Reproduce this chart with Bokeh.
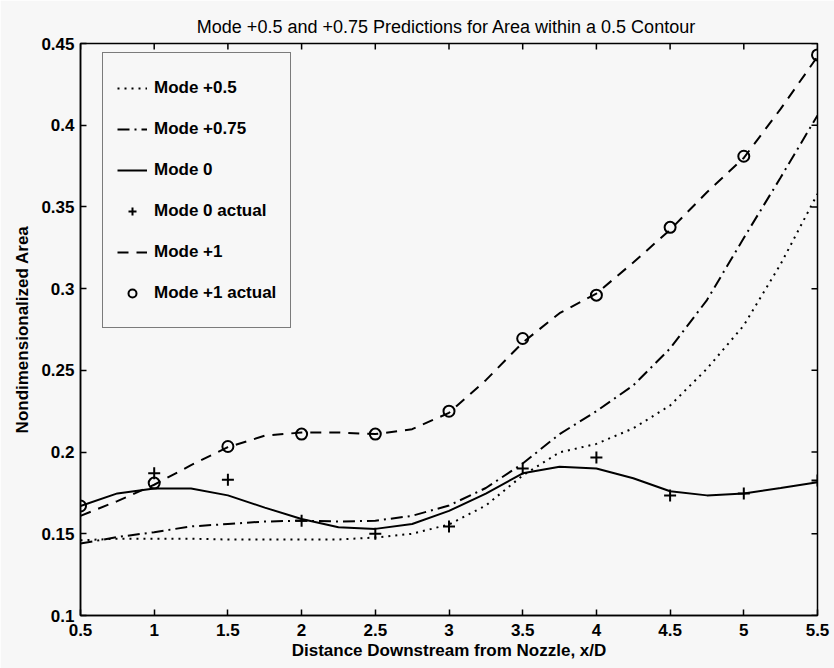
from bokeh.plotting import figure
from bokeh.models import (FixedTicker, Legend, LegendItem,
                          CustomJSTickFormatter, Range1d)
from bokeh.embed import file_html
from bokeh.resources import INLINE

# ---- data ----
x_curve = [0.5, 0.75, 1.0, 1.25, 1.5, 1.75, 2.0, 2.25, 2.5, 2.75, 3.0,
           3.25, 3.5, 3.75, 4.0, 4.25, 4.5, 4.75, 5.0, 5.25, 5.5]
mode_p05 = [0.146, 0.147, 0.147, 0.147, 0.1465, 0.1465, 0.1465, 0.1465, 0.1477, 0.150, 0.1557,
            0.1673, 0.1857, 0.1998, 0.205, 0.2145, 0.2285, 0.251, 0.2775, 0.315, 0.358]
mode_p075 = [0.144, 0.148, 0.151, 0.1545, 0.156, 0.1575, 0.158, 0.1575, 0.158, 0.161, 0.1673,
             0.178, 0.193, 0.211, 0.2250, 0.2408, 0.2634, 0.293, 0.331, 0.368, 0.406]
mode_0 = [0.167, 0.1747, 0.1777, 0.1777, 0.1735, 0.166, 0.159, 0.154, 0.153, 0.156, 0.164,
          0.1746, 0.187, 0.191, 0.190, 0.184, 0.176, 0.1735, 0.1747, 0.178, 0.1815]
mode_p1 = [0.161, 0.170, 0.180, 0.192, 0.203, 0.210, 0.212, 0.212, 0.211, 0.214, 0.224,
           0.244, 0.267, 0.285, 0.297, 0.316, 0.336, 0.359, 0.380, 0.410, 0.442]

x_m0_actual = [1.0, 1.5, 2.0, 2.5, 3.0, 3.5, 4.0, 4.5, 5.0, 5.5]
y_m0_actual = [0.187, 0.183, 0.158, 0.150, 0.1545, 0.190, 0.1967, 0.1734, 0.1746, 0.1826]

x_m1_actual = [0.5, 1.0, 1.5, 2.0, 2.5, 3.0, 3.5, 4.0, 4.5, 5.0, 5.5]
y_m1_actual = [0.167, 0.181, 0.2034, 0.211, 0.211, 0.225, 0.2695, 0.296, 0.3375, 0.381, 0.443]

x_ticks = [0.5, 1, 1.5, 2, 2.5, 3, 3.5, 4, 4.5, 5, 5.5]
y_ticks = [0.1, 0.15, 0.2, 0.25, 0.3, 0.35, 0.4, 0.45]

FONT = "Liberation Sans"
XMIN, XMAX, YMIN, YMAX = 0.5, 5.5, 0.1, 0.45
FW, FH = 737, 572
TICK = 6

p = figure(frame_width=FW, frame_height=FH, width=834, height=668,
           x_range=Range1d(XMIN, XMAX), y_range=Range1d(YMIN, YMAX),
           output_backend="svg", toolbar_location=None,
           min_border_left=80, min_border_top=43, min_border_right=17, min_border_bottom=53,
           background_fill_color="#f7f7f7", border_fill_color="#f7f7f7")
p.xgrid.visible = False
p.ygrid.visible = False
p.outline_line_color = "black"
p.outline_line_width = 1.5

p.title.text = "Mode +0.5 and +0.75 Predictions for Area within  a 0.5 Contour"
p.title.align = "center"
p.title.text_font = FONT
p.title.text_font_size = "18px"
p.title.text_font_style = "normal"
p.title.text_color = "black"
p.title.standoff = 13

fmt = CustomJSTickFormatter(code="return String(Math.round(tick*100)/100);")

for ax, ticks in ((p.xaxis[0], x_ticks), (p.yaxis[0], y_ticks)):
    ax.ticker = FixedTicker(ticks=ticks)
    ax.formatter = fmt
    ax.major_tick_in = TICK
    ax.major_tick_out = 0
    ax.minor_tick_line_color = None
    ax.axis_line_color = "black"
    ax.axis_line_width = 1.5
    ax.major_tick_line_width = 1.5
    ax.major_label_text_font = FONT
    ax.major_label_text_font_size = "17px"
    ax.major_label_text_font_style = "bold"
    ax.major_label_text_color = "black"
    ax.axis_label_text_font = FONT
    ax.axis_label_text_font_size = "17px"
    ax.axis_label_text_font_style = "bold"
    ax.axis_label_text_color = "black"

p.xaxis.axis_label = "Distance Downstream from Nozzle, x/D"
p.yaxis.axis_label = "Nondimensionalized Area"
p.xaxis.major_label_standoff = 8
p.xaxis.axis_label_standoff = 2
p.yaxis.major_label_standoff = 6
p.yaxis.axis_label_standoff = 6

# mirrored inward ticks on the top and right edges of the box
dx = TICK * (XMAX - XMIN) / FW
dy = TICK * (YMAX - YMIN) / FH
p.segment(x0=x_ticks, x1=x_ticks, y0=[YMAX] * len(x_ticks), y1=[YMAX - dy] * len(x_ticks),
          line_color="black", line_width=1.5)
p.segment(x0=[XMAX] * len(y_ticks), x1=[XMAX - dx] * len(y_ticks), y0=y_ticks, y1=y_ticks,
          line_color="black", line_width=1.5)

r1 = p.line(x_curve, mode_p05, line_color="black", line_width=2, line_dash="2 5")
r2 = p.line(x_curve, mode_p075, line_color="black", line_width=2, line_dash="12 5 2 5")
r3 = p.line(x_curve, mode_0, line_color="black", line_width=2)
r4 = p.scatter(x_m0_actual, y_m0_actual, marker="cross", size=12,
               line_color="black", line_width=2)
r5 = p.line(x_curve, mode_p1, line_color="black", line_width=2, line_dash="11 8")
r6 = p.scatter(x_m1_actual, y_m1_actual, marker="circle", size=11,
               line_color="black", line_width=2, fill_color=None)

legend = Legend(items=[
    LegendItem(label="Mode +0.5", renderers=[r1]),
    LegendItem(label="Mode +0.75", renderers=[r2]),
    LegendItem(label="Mode 0", renderers=[r3]),
    LegendItem(label="Mode 0 actual", renderers=[r4]),
    LegendItem(label="Mode +1", renderers=[r5]),
    LegendItem(label="Mode +1 actual", renderers=[r6]),
], location=(22, 287))
legend.label_text_font = FONT
legend.label_text_font_size = "17px"
legend.label_text_font_style = "bold"
legend.label_text_color = "black"
legend.label_height = 41
legend.glyph_height = 20
legend.glyph_width = 30
legend.label_standoff = 7
legend.spacing = 0
legend.padding = 14
legend.border_line_color = "black"
legend.border_line_width = 1.5
legend.background_fill_color = "#f7f7f7"
legend.background_fill_alpha = 1.0
p.add_layout(legend)

open("out.html", "w").write(file_html(p, INLINE))
